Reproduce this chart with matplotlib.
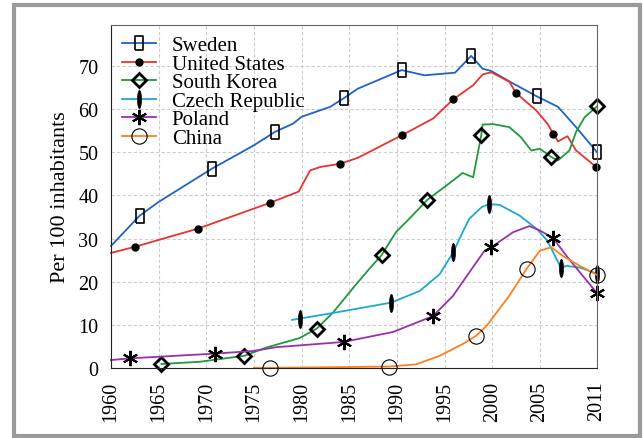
import numpy as np
import matplotlib
matplotlib.use("Agg")
import matplotlib.pyplot as plt
from matplotlib.patches import Rectangle

plt.rcParams['font.family'] = ['Liberation Serif', 'DejaVu Serif']

# values (per 100 inhabitants)
sweden_years = [1960, 1963, 1965, 1970.6, 1975, 1977.2, 1979.1, 1980, 1983, 1984.5, 1985.9,
                1990.5, 1992.9, 1996.1, 1997.8, 1999.0, 1999.9, 2002.2, 2004.7, 2006.9, 2008.8, 2011]
sweden_vals = [28.3, 35.3, 38.5, 46.2, 51.6, 54.7, 56.6, 58.2, 60.5, 62.6, 64.7,
               69.0, 67.8, 68.4, 72.3, 69.3, 68.8, 65.9, 62.9, 60.5, 55.8, 50.0]
sweden_marks = [1, 3, 5, 9, 11, 14, 18, 21]

us_years = [1960, 1962.5, 1965, 1969.1, 1976.7, 1979.7, 1980.9, 1982, 1984.0, 1985.9, 1990.5,
            1993.8, 1995.9, 1998.0, 1999.0, 1999.9, 2001.8, 2002.5, 2004.6, 2005.8, 2006.4,
            2006.9, 2007.9, 2008.8, 2010.9]
us_vals = [26.7, 28.1, 29.7, 32.3, 38.3, 40.9, 45.8, 46.6, 47.3, 48.7, 53.9,
           57.8, 62.2, 65.5, 68.0, 68.5, 66.3, 63.7, 59.7, 56.6, 54.3,
           52.5, 53.7, 50.4, 46.6]
us_marks = [1, 3, 4, 8, 10, 12, 17, 20, 24]

korea_years = [1965.3, 1969.3, 1974.0, 1976.3, 1979.8, 1981.6, 1983.3, 1985.6, 1987.1, 1988.4,
               1989.9, 1991.3, 1993.2, 1995.2, 1996.9, 1998.0, 1998.85, 1999.0, 2000.1, 2001.8,
               2003.0, 2004.1, 2005.0, 2006.2, 2006.9, 2008.1, 2008.8, 2009.7, 2011]
korea_vals = [1.0, 1.5, 2.9, 4.8, 7.0, 9.2, 12.9, 19.1, 23.0, 26.2,
              31.5, 34.6, 39.0, 42.3, 45.2, 44.2, 53.9, 56.4, 56.5, 55.8,
              53.5, 50.4, 50.8, 48.9, 48.1, 50.4, 54.7, 58.1, 60.6]
korea_marks = [0, 2, 5, 9, 12, 16, 23, 28]

czech_years = [1979.0, 1979.8, 1983.3, 1985.6, 1989.4, 1992.4, 1994.5, 1995.9, 1996.9, 1997.6,
               1998.9, 1999.7, 2000.8, 2002.9, 2004.7, 2005.8, 2007.2, 2007.8, 2009.2, 2011]
czech_vals = [11.2, 11.5, 12.8, 13.7, 15.2, 17.9, 21.8, 26.8, 31.5, 34.6,
              37.3, 38.0, 37.8, 35.3, 32.2, 29.5, 23.3, 23.7, 23.3, 21.9]
czech_marks = [1, 4, 7, 11, 16, 19]

poland_years = [1960, 1962.0, 1970.9, 1974.9, 1977.4, 1979.8, 1984.4, 1989.6, 1993.8, 1995.9,
                1997.6, 1999.2, 1999.9, 2002.2, 2003.9, 2005.0, 2006.4, 2007.8, 2009.5, 2011]
poland_vals = [1.9, 2.3, 3.4, 4.0, 4.9, 5.3, 6.1, 8.4, 12.1, 16.8,
               22.2, 27.2, 28.0, 31.5, 32.9, 31.9, 30.1, 26.0, 21.4, 17.4]
poland_marks = [1, 2, 6, 8, 12, 16, 19]

china_years = [1975, 1976.7, 1989.2, 1992.0, 1994.5, 1996.9, 1998.3, 1999.4, 2001.8, 2003.6,
               2005.0, 2006.2, 2007.4, 2009.2, 2011]
china_vals = [0.1, 0.1, 0.4, 0.9, 2.9, 5.6, 7.5, 9.8, 16.8, 23.0,
              27.2, 28.0, 26.0, 23.7, 21.6]
china_marks = [1, 2, 6, 9, 14]

xtick_years = [1960, 1965, 1970, 1975, 1980, 1985, 1990, 1995, 2000, 2005, 2011]
ytick_vals = [0, 10, 20, 30, 40, 50, 60, 70]

# custom marker shapes
rect_marker = [(-0.32, -0.5), (0.32, -0.5), (0.32, 0.5), (-0.32, 0.5), (-0.32, -0.5)]
t = np.linspace(0, 2 * np.pi, 40)
ellipse_marker = list(zip(0.11 * np.cos(t), 0.5 * np.sin(t)))

fig = plt.figure(figsize=(6.43, 4.39), dpi=100)
ax = fig.add_axes([0.1726, 0.1588, 0.7559, 0.7826])

common = dict(lw=1.3, clip_on=False, markeredgecolor='black')
ax.plot(sweden_years, sweden_vals, color='#1f63c4', marker=rect_marker, ms=10,
        mfc='none', mew=1.2, markevery=sweden_marks, label='Sweden', **common)
ax.plot(us_years, us_vals, color='#e8332e', marker='o', ms=5, mfc='black',
        markevery=us_marks, label='United States', **common)
ax.plot(korea_years, korea_vals, color='#1f9a3c', marker='D', ms=7.5, mfc='none',
        mew=2, markevery=korea_marks, label='South Korea', **common)
ax.plot(czech_years, czech_vals, color='#1ba9d3', marker=ellipse_marker, ms=13,
        mfc='black', mew=0.5, markevery=czech_marks, label='Czech Republic', **common)
ax.plot(poland_years, poland_vals, color='#9b2fae', marker=(6, 2, 0), ms=11,
        mew=1.5, markevery=poland_marks, label='Poland', **common)
ax.plot(china_years, china_vals, color='#ff7f1f', marker='o', ms=11, mfc='none',
        mew=0.8, markevery=china_marks, label='China', **common)

ax.set_xlim(1960, 2011)
ax.set_ylim(0, 79.5)
ax.set_xticks(xtick_years)
ax.set_xticklabels([str(y) for y in xtick_years], rotation=90)
ax.set_yticks(ytick_vals)
ax.tick_params(length=0, labelsize=14.5, pad=9)
ax.grid(True, color='#cccccc', lw=0.8, linestyle=(0, (3, 2)))
ax.set_axisbelow(True)
for side in ['left', 'bottom']:
    ax.spines[side].set_color('#222222')
for side in ['top', 'right']:
    ax.spines[side].set_color('#666666')

ax.set_ylabel('Per 100 inhabitants', fontsize=16, labelpad=6)

ax.legend(loc='upper left', bbox_to_anchor=(0.022, 0.968), frameon=False, fontsize=15,
          labelspacing=-0.05, handlelength=1.65, handletextpad=0.75, borderpad=0,
          borderaxespad=0, numpoints=1)

# grey frame around the whole picture
fig.patches.append(Rectangle((0.0218, 0.0046), 0.9743, 0.9817, transform=fig.transFigure,
                             fill=False, edgecolor='#9a9a9a', lw=3))

fig.savefig('out.png', dpi=100)
